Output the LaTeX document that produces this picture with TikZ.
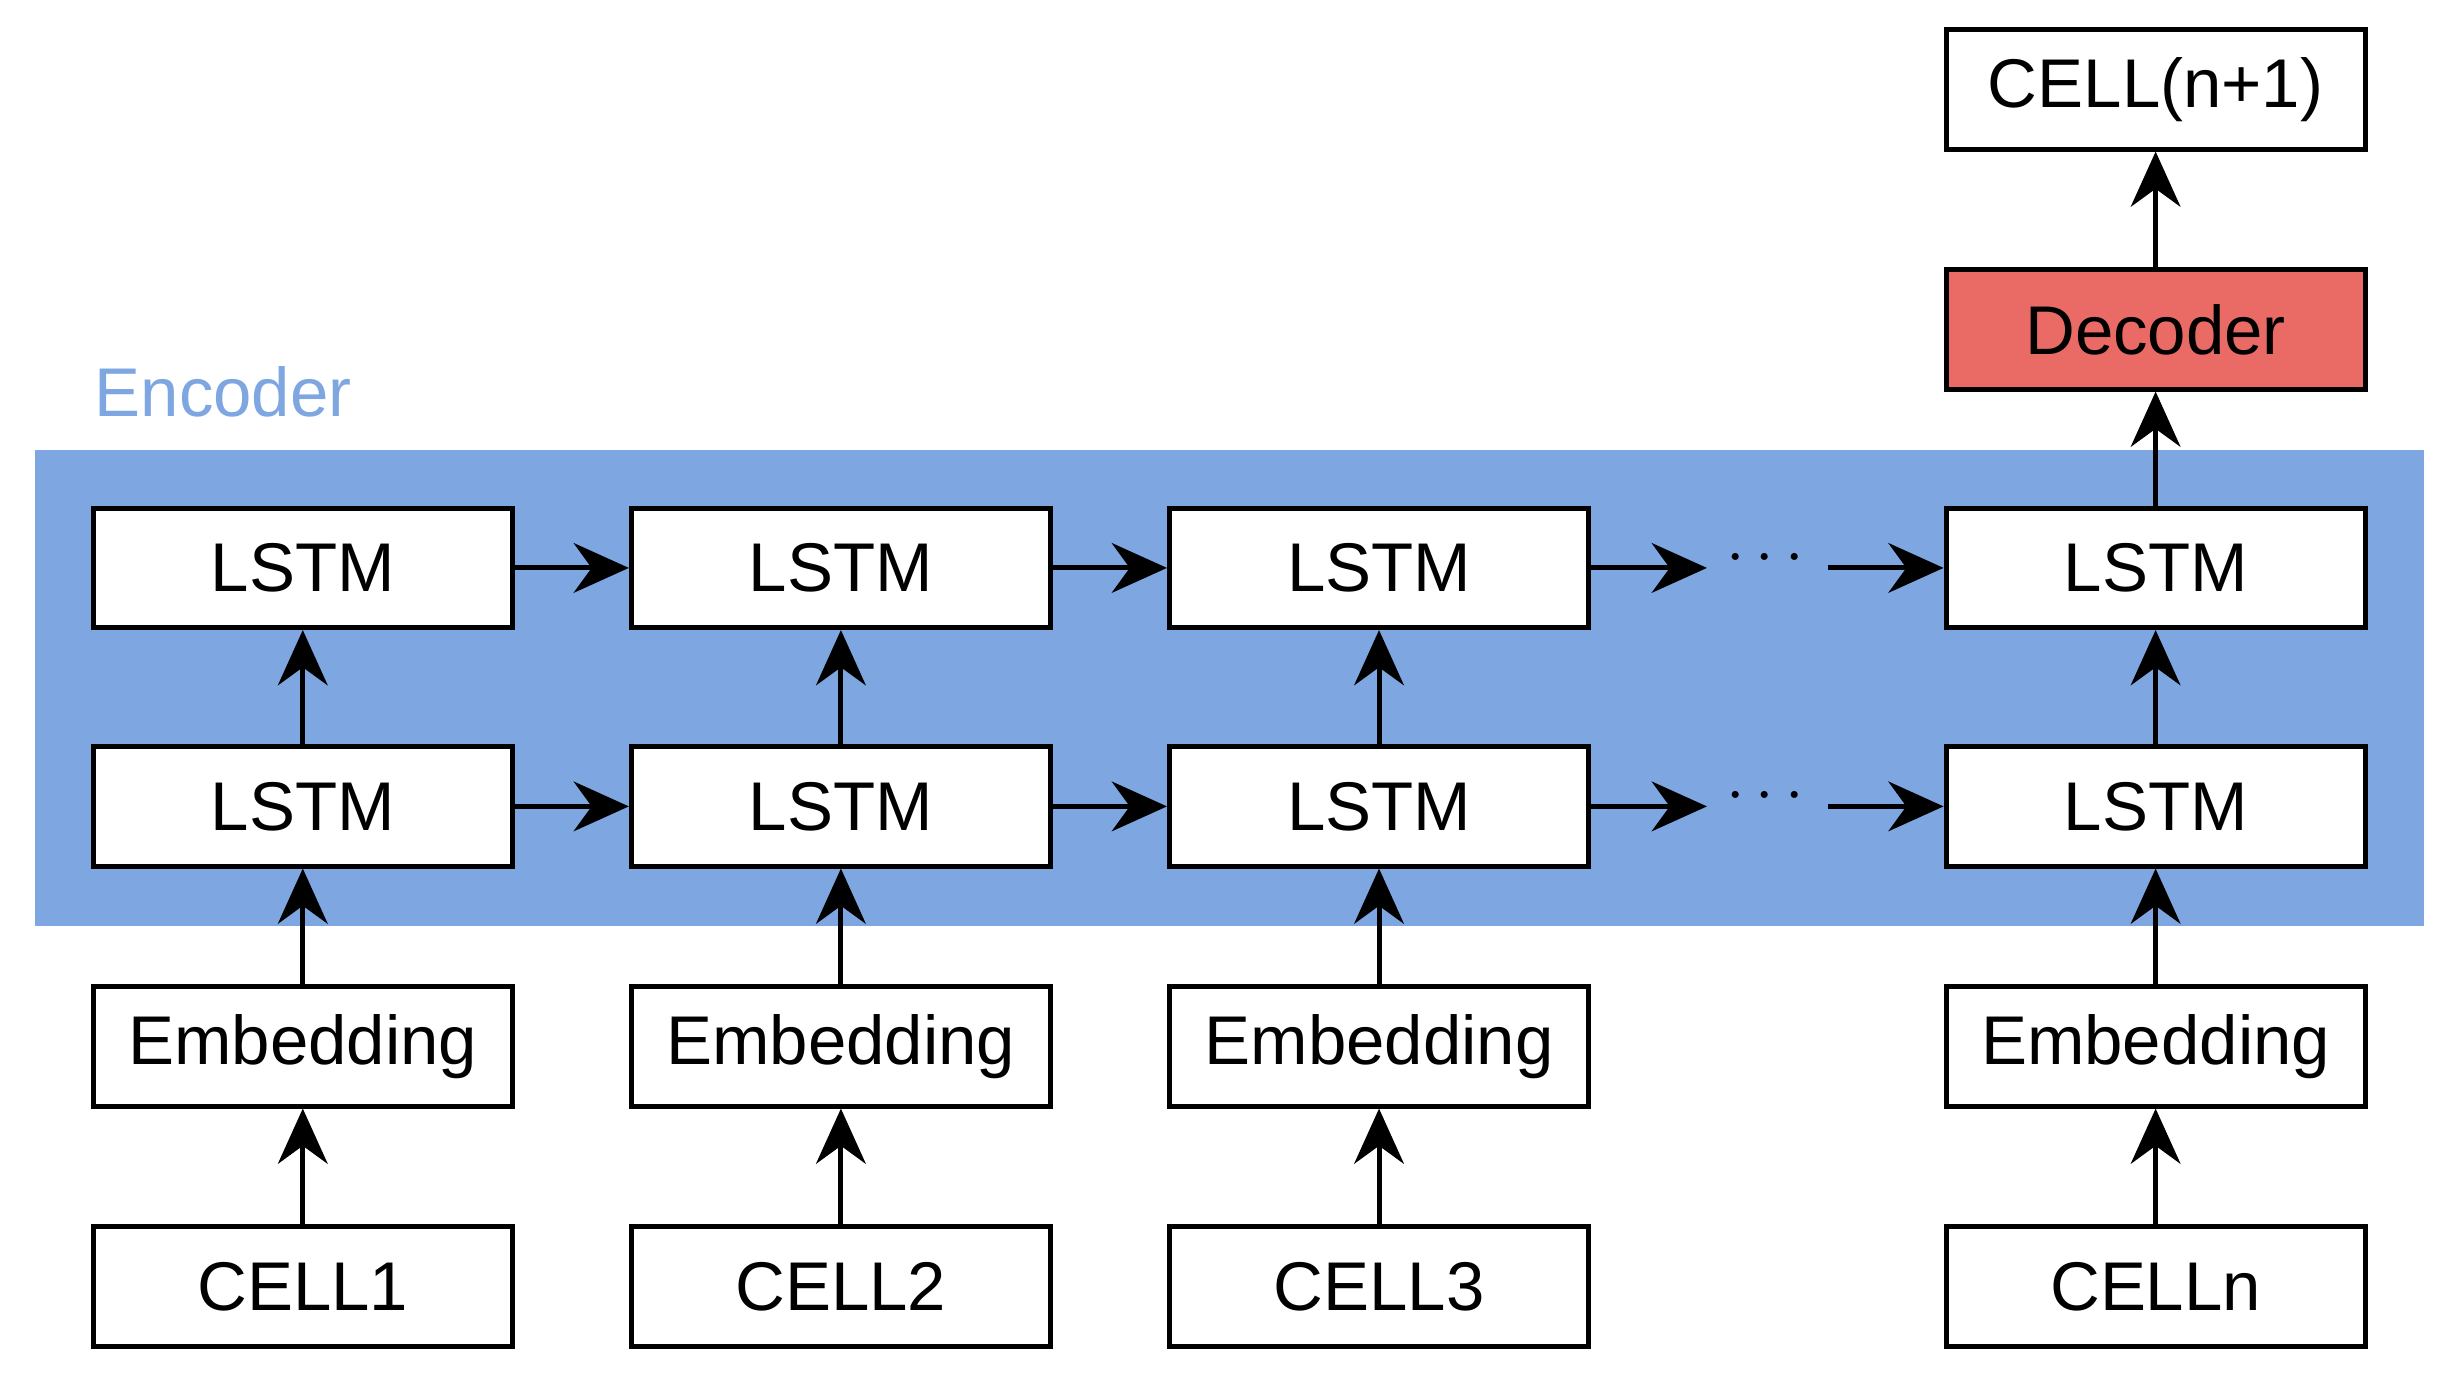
\documentclass[tikz,border=0pt]{standalone}
\usepackage{fontspec}
\setmainfont{Liberation Sans}
\usetikzlibrary{arrows.meta}
\definecolor{encblue}{HTML}{7EA6E0}
\definecolor{decred}{HTML}{EA6B66}
\begin{document}
\begin{tikzpicture}[x=0.01cm,y=-0.01cm,
  box/.style={draw=black,line width=0.9pt,fill=white,minimum width=2.67cm,minimum height=0.76cm,inner sep=0pt,font=\fontsize{12.5}{14}\selectfont},
  arr/.style={line width=0.9pt,-{Stealth[length=10pt,width=9pt]}}]
\useasboundingbox (0,0) rectangle (1568,876);
\fill[encblue] (22,287) rectangle (1545,590);
\node[text=encblue,anchor=west,font=\fontsize{12.5}{14}\selectfont] (enc) at (48,250) {Encoder};
\foreach \n/\x in {1/193,2/536,3/879,4/1374}{
  \node[box] (t\n) at (\x,362) {LSTM};
  \node[box] (b\n) at (\x,514) {LSTM};
  \node[box] (e\n) at (\x,667) {Embedding};
  \draw[arr] (e\n) -- (b\n);
  \draw[arr] (b\n) -- (t\n);
}
\node[box] (c1) at (193,820) {CELL1};
\node[box] (c2) at (536,820) {CELL2};
\node[box] (c3) at (879,820) {CELL3};
\node[box] (c4) at (1374,820) {CELLn};
\foreach \n in {1,2,3,4}{\draw[arr] (c\n) -- (e\n);}
\node[box,fill=decred] (dec) at (1374,210) {Decoder};
\node[box] (out) at (1374,57) {CELL(n+1)};
\draw[arr] (t4) -- (dec);
\draw[arr] (dec) -- (out);
\foreach \r/\y in {t/362,b/514}{
  \draw[arr] (\r1) -- (\r2);
  \draw[arr] (\r2) -- (\r3);
  \node[font=\fontsize{12.5}{14}\selectfont] (d\r) at (1125,\y-6) {$\cdots$};
  \coordinate (s\r) at (1088,\y);
  \coordinate (f\r) at (1165,\y);
  \draw[arr] (\r3) -- (s\r);
  \draw[arr] (f\r) -- (\r4);
}
\end{tikzpicture}
\end{document}
